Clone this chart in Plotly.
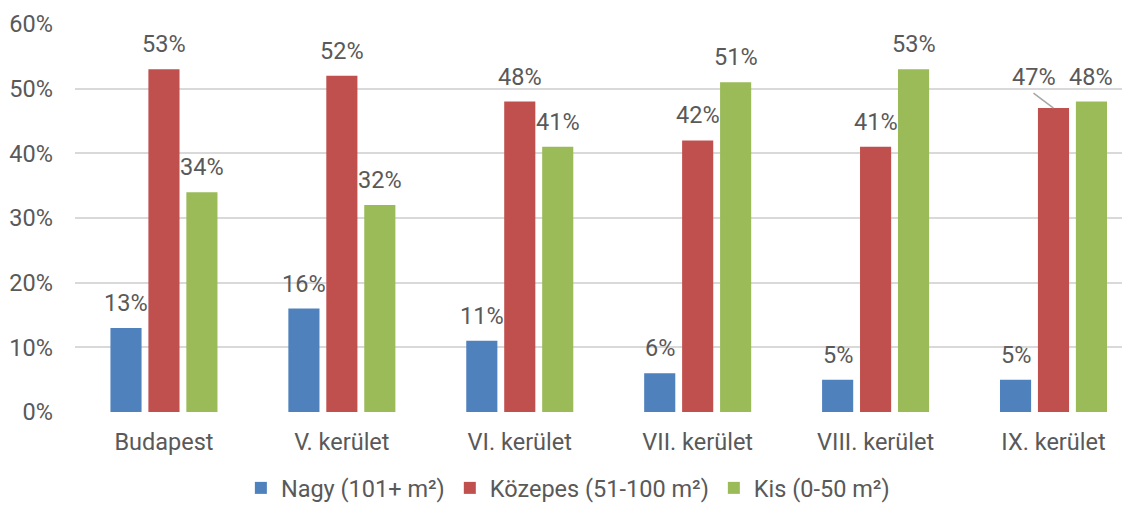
import plotly.graph_objects as go

categories = ["Budapest", "V. kerület", "VI. kerület", "VII. kerület", "VIII. kerület", "IX. kerület"]
series_names = ["Nagy (101+ m²)", "Közepes (51-100 m²)", "Kis (0-50 m²)"]
nagy = [13, 16, 11, 6, 5, 5]
kozepes = [53, 52, 48, 42, 41, 47]
kis = [34, 32, 41, 51, 53, 48]
colors = ["#4F81BD", "#C0504D", "#9BBB59"]

FONT = "Roboto"
FS = 23.5
TXT = "#595959"
BARGAP = 0.36
GROUPGAP = 0.18

xs = list(range(len(categories)))
fig = go.Figure()
all_series = [nagy, kozepes, kis]
for name, vals, col in zip(series_names, all_series, colors):
    fig.add_trace(go.Bar(x=xs, y=vals, name=name, marker=dict(color=col, line=dict(width=0))))

slot = (1 - BARGAP) / 3
annotations = []
shapes = []
for j, vals in enumerate(all_series):
    for i, v in enumerate(vals):
        xa = i + (j - 1) * slot
        if j == 1 and i == 5:
            # label moved aside with a leader line (as in the original)
            annotations.append(dict(x=xa, y=v, xref="x", yref="y", text=f"{v}%",
                                    showarrow=False, yanchor="bottom", yshift=15, xshift=-20,
                                    font=dict(family=FONT, size=FS, color=TXT)))
            shapes.append(dict(type="line", xref="x", yref="y",
                               xsizemode="pixel", ysizemode="pixel",
                               xanchor=xa, yanchor=v, x0=-20, y0=15, x1=0, y1=0,
                               line=dict(color="#A6A6A6", width=1.5)))
        else:
            annotations.append(dict(x=xa, y=v, xref="x", yref="y", text=f"{v}%",
                                    showarrow=False, yanchor="bottom", yshift=9,
                                    font=dict(family=FONT, size=FS, color=TXT)))

fig.update_layout(
    width=1122, height=497,
    margin=dict(l=67, r=0, t=16, b=93, autoexpand=False),
    paper_bgcolor="white", plot_bgcolor="white",
    barmode="group", bargap=BARGAP, bargroupgap=GROUPGAP,
    font=dict(family=FONT, size=FS, color=TXT),
    annotations=annotations,
    shapes=shapes,
    showlegend=True,
    legend=dict(orientation="h", xref="container", yref="container",
                x=0.499, xanchor="center", y=0.034, yanchor="middle",
                font=dict(family=FONT, size=FS, color=TXT),
                itemsizing="constant", traceorder="normal"),
)
fig.update_xaxes(range=[-0.5, 5.43], tickvals=xs, ticktext=categories,
                 showgrid=False, zeroline=False, showline=False, automargin=False,
                 tickfont=dict(family=FONT, size=FS, color=TXT), ticklabelstandoff=13)
fig.update_yaxes(range=[0, 60], dtick=10, ticksuffix="%", showgrid=True,
                 gridcolor="#D9D9D9", gridwidth=1.5, zeroline=False, showline=False,
                 automargin=False,
                 tickfont=dict(family=FONT, size=FS, color=TXT), ticklabelstandoff=21)

for tr in fig.data:
    tr.cliponaxis = False

fig.write_html("out.html")
